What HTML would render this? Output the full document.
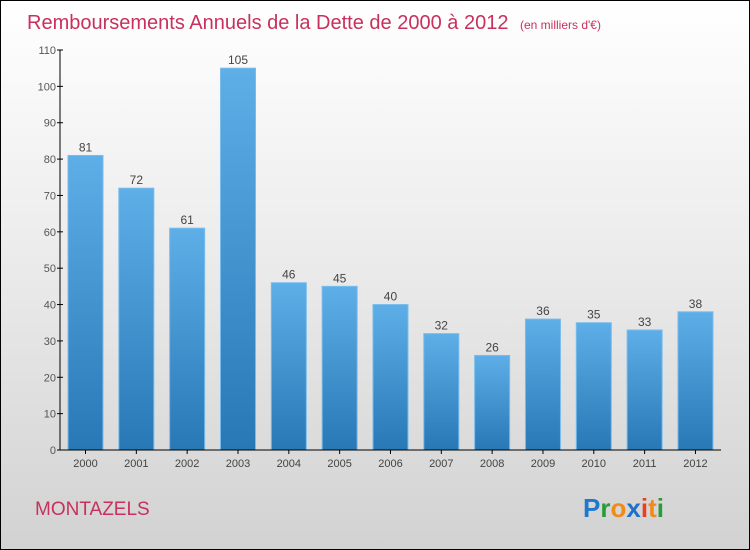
<!DOCTYPE html>
<html><head><meta charset="utf-8"><style>
body{margin:0}
#c{position:relative;width:748px;height:548px;border:1px solid #000;background:linear-gradient(#fff 0%,#ececec 45%,#d2d2d2 100%);font-family:"Liberation Sans",sans-serif;overflow:hidden}
</style></head><body>
<div id="c">
<svg id="s" width="748" height="548">
<defs><linearGradient id="g" x1="0" y1="0" x2="0" y2="1"><stop offset="0" stop-color="#5eaee8"/><stop offset="1" stop-color="#2878b6"/></linearGradient></defs>
<text x="26" y="28" font-size="20" fill="#c8305e">Remboursements Annuels de la Dette de 2000 à 2012 <tspan font-size="12" dx="6">(en milliers d'€)</tspan></text>
<text x="34" y="514" font-size="19" fill="#c8305e">MONTAZELS</text>
<g font-size="26" font-weight="bold" font-family="'Liberation Sans',sans-serif">
<text x="582" y="516"><tspan fill="#1e78d0">P</tspan><tspan fill="#2a9a3a">r</tspan><tspan fill="#f08a1a">o</tspan><tspan fill="#1e70c8">x</tspan><tspan fill="#e84020">i</tspan><tspan fill="#f08a1a">t</tspan><tspan fill="#2a9a3a">i</tspan></text>
</g>
<g id="plot"></g>
</svg>
</div>
<script>
const years=["2000","2001","2002","2003","2004","2005","2006","2007","2008","2009","2010","2011","2012"];
const values=[81,72,61,105,46,45,40,32,26,36,35,33,38];
const yTicks=[0,10,20,30,40,50,60,70,80,90,100,110];
const NS="http://www.w3.org/2000/svg";
const p=document.getElementById('plot');
const y0=449,yMax=110,yTop=49,ax=59;
const y=v=>y0-(v/yMax)*(y0-yTop);
const x=i=>84.5+i*50.83;
function mk(t,a){const e=document.createElementNS(NS,t);for(const k in a)e.setAttribute(k,a[k]);p.appendChild(e);return e;}
yTicks.forEach(t=>{
 const l=mk('line',{x1:ax-3,x2:ax+3,y1:y(t),y2:y(t),stroke:'#000'});
 
 
 const tx=mk('text',{x:ax-4,y:y(t)+4,'font-size':11,fill:'#555','text-anchor':'end'});
 tx.textContent=t;
 
 
});
values.forEach((v,i)=>{
 const r=mk('rect',{x:x(i)-17.5,y:y(v),width:35,height:y0-y(v),fill:'url(#g)',stroke:'#78bcec','stroke-width':1});
 
 
 const t=mk('text',{x:x(i),y:y(v)-4,'font-size':12,fill:'#444','text-anchor':'middle'});
 t.textContent=v;
 
 
 const yl=mk('text',{x:x(i),y:466,'font-size':11,fill:'#444','text-anchor':'middle'});
 yl.textContent=years[i];
 
 
 const tk=mk('line',{x1:x(i),x2:x(i),y1:y0,y2:y0+4,stroke:'#000'});
 
 
});
const ya=mk('line',{x1:ax,x2:ax,y1:yTop,y2:y0,stroke:'#000'});


const xa=mk('line',{x1:ax,x2:720,y1:y0,y2:y0,stroke:'#000'});


</script>
</body></html>
